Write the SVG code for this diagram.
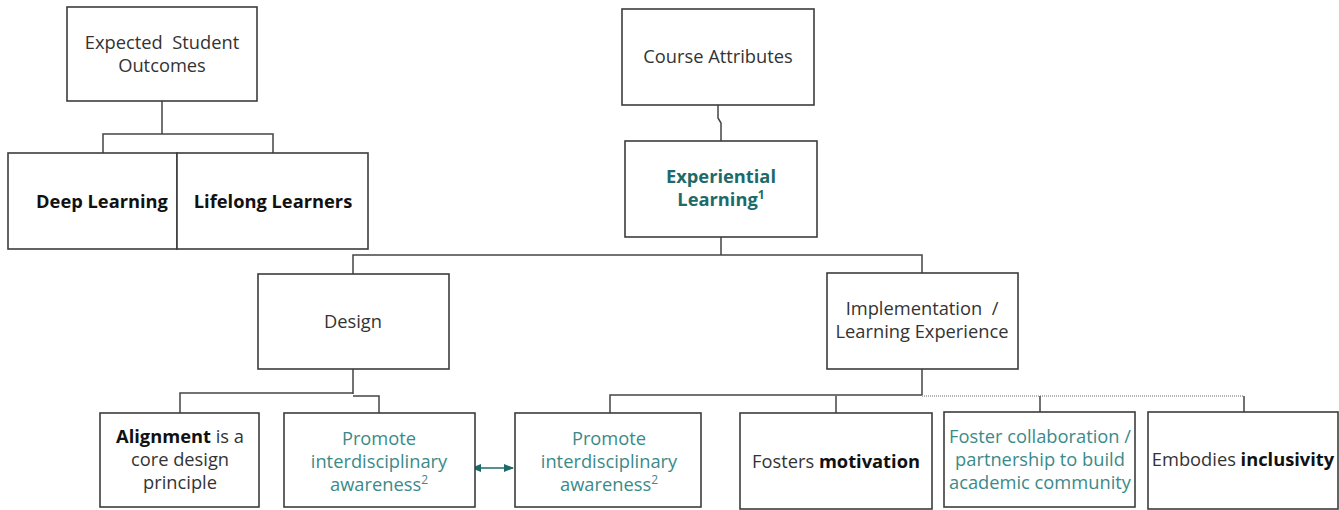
<svg xmlns="http://www.w3.org/2000/svg" width="1339" height="510" viewBox="0 0 1339 510">
<style>
.box{fill:#fff;stroke:#3c3c3c;stroke-width:1.6}
.t{font-family:"Open Sans","Liberation Sans",sans-serif;font-size:18.3px;fill:#333;text-anchor:middle}
.b{font-weight:bold;fill:#111}
.teal{fill:#3a8a8a}
.tealb{fill:#1d6a6a;font-weight:bold}
.c{fill:none;stroke:#444;stroke-width:1.5}
.cl{fill:none;stroke:#9a9a9a;stroke-width:1.5;stroke-dasharray:1 1}
.sup{font-size:12px}
</style>
<defs>
<marker id="ah" viewBox="0 0 10 10" refX="9" refY="5" markerWidth="7" markerHeight="7" orient="auto-start-reverse">
<path d="M0,1 L10,5 L0,9 z" fill="#1d6a6a"/>
</marker>
</defs>
<g id="connectors">
<path class="c" d="M162,101 V134 M103,153 V134 H273 V153"/>
<path class="c" d="M718,105 V118 L721,123 V141"/>
<path class="c" d="M721,237 V255 M353,274 V255 H922 V273"/>
<path class="c" d="M353,369 V394 M180,413 V393 H353 M353,396 H379 V413"/>
<path class="c" d="M922,369 V395 M610,413 V395 H922 M836,413 V396"/>
<path class="cl" d="M922,396 H1244"/>
<path class="c" d="M1040,412 V396 M1244,412 V396"/>
<line x1="472" y1="468" x2="513" y2="468" stroke="#1d6a6a" stroke-width="1.5" marker-start="url(#ah)" marker-end="url(#ah)"/>
</g>
<g id="n-expected">
<rect class="box" x="67" y="7" width="190" height="94"/>
<text class="t" x="162" y="49" xml:space="preserve">Expected  Student</text>
<text class="t" x="162" y="72">Outcomes</text>
</g>
<g id="n-deep">
<rect class="box" x="8" y="153" width="169" height="96"/>
<text class="t b" x="102" y="208">Deep Learning</text>
</g>
<g id="n-lifelong">
<rect class="box" x="177" y="153" width="191" height="96"/>
<text class="t b" x="273" y="208">Lifelong Learners</text>
</g>
<g id="n-course">
<rect class="box" x="622" y="9" width="192" height="96"/>
<text class="t" x="718" y="63">Course Attributes</text>
</g>
<g id="n-experiential">
<rect class="box" x="625" y="141" width="192" height="96"/>
<text class="t tealb" x="721" y="183">Experiential</text>
<text class="t tealb" x="721" y="206">Learning<tspan class="sup" dy="-7">1</tspan></text>
</g>
<g id="n-design">
<rect class="box" x="258" y="274" width="191" height="95"/>
<text class="t" x="353" y="328">Design</text>
</g>
<g id="n-implementation">
<rect class="box" x="827" y="273" width="191" height="96"/>
<text class="t" x="922" y="315" xml:space="preserve">Implementation  /</text>
<text class="t" x="922" y="338">Learning Experience</text>
</g>
<g id="n-alignment">
<rect class="box" x="100" y="413" width="159" height="94"/>
<text class="t" x="180" y="443"><tspan class="b">Alignment</tspan> is a</text>
<text class="t" x="180" y="466">core design</text>
<text class="t" x="180" y="489">principle</text>
</g>
<g id="n-promote1">
<rect class="box" x="284" y="413" width="191" height="94"/>
<text class="t teal" x="379" y="445">Promote</text>
<text class="t teal" x="379" y="468">interdisciplinary</text>
<text class="t teal" x="379" y="491">awareness<tspan class="sup" dy="-7">2</tspan></text>
</g>
<g id="n-promote2">
<rect class="box" x="515" y="413" width="186" height="94"/>
<text class="t teal" x="609" y="445">Promote</text>
<text class="t teal" x="609" y="468">interdisciplinary</text>
<text class="t teal" x="609" y="491">awareness<tspan class="sup" dy="-7">2</tspan></text>
</g>
<g id="n-motivation">
<rect class="box" x="740" y="413" width="192" height="96"/>
<text class="t" x="836" y="468">Fosters <tspan class="b">motivation</tspan></text>
</g>
<g id="n-collab">
<rect class="box" x="944" y="412" width="191" height="95"/>
<text class="t teal" x="1040" y="443">Foster collaboration /</text>
<text class="t teal" x="1040" y="466">partnership to build</text>
<text class="t teal" x="1040" y="489">academic community</text>
</g>
<g id="n-inclusivity">
<rect class="box" x="1148" y="412" width="190" height="97"/>
<text class="t" x="1243" y="466">Embodies <tspan class="b">inclusivity</tspan></text>
</g>
</svg>
